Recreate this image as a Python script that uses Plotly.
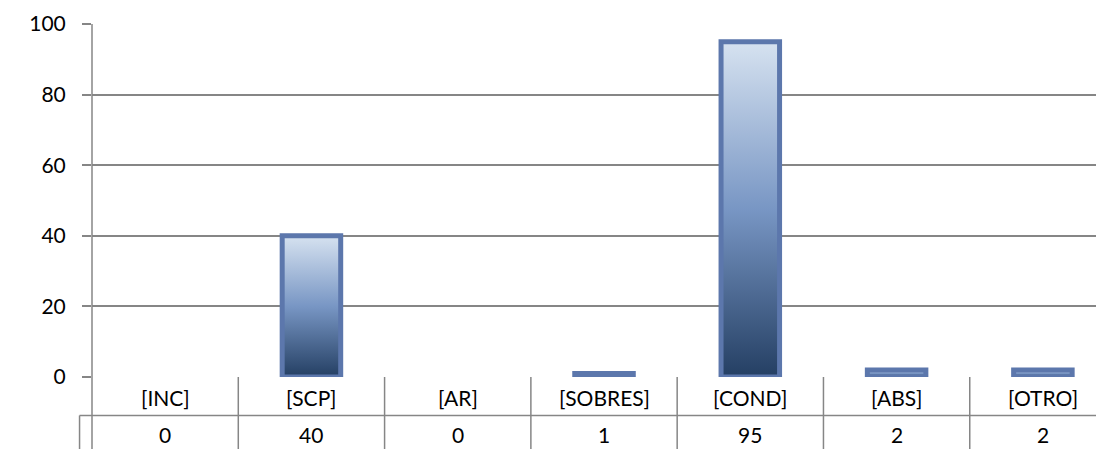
import plotly.graph_objects as go

# Data
categories = ["[INC]", "[SCP]", "[AR]", "[SOBRES]", "[COND]", "[ABS]", "[OTRO]"]
values = [0, 40, 0, 1, 95, 2, 2]
y_ticks = [0, 20, 40, 60, 80, 100]

grid_color = "#868686"
border_color = "#5C77AC"
font_family = "Lato, Carlito, Calibri, sans-serif"
half_w = 0.2  # half bar width in category units

fig = go.Figure()

# bars drawn as filled polygons so they can carry a vertical gradient
for i, (cat, v) in enumerate(zip(categories, values)):
    if v <= 0:
        continue
    fig.add_trace(go.Scatter(
        x=[i - half_w, i - half_w, i + half_w, i + half_w, i - half_w],
        y=[0, v, v, 0, 0],
        mode="lines",
        fill="toself",
        fillgradient=dict(type="vertical",
                          colorscale=[[0, "#243F63"], [0.5, "#7896C4"], [1, "#D6E2F0"]]),
        line=dict(color=border_color, width=5),
        name=cat,
        showlegend=False,
        hoverinfo="skip",
    ))

# data table below the plot
row1_bottom = -0.109
table_bottom = -0.30
shapes = []
for k in range(1, len(categories)):
    shapes.append(dict(type="line", xref="x", yref="paper", x0=k - 0.5, x1=k - 0.5,
                       y0=0, y1=table_bottom, line=dict(color=grid_color, width=1.5)))
shapes.append(dict(type="line", xref="paper", yref="paper", x0=-0.0124, x1=1,
                   y0=row1_bottom, y1=row1_bottom, line=dict(color=grid_color, width=1.5)))
shapes.append(dict(type="line", xref="paper", yref="paper", x0=-0.0124, x1=-0.0124,
                   y0=row1_bottom, y1=table_bottom, line=dict(color=grid_color, width=1.5)))
shapes.append(dict(type="line", xref="paper", yref="paper", x0=0, x1=0,
                   y0=1, y1=table_bottom, line=dict(color=grid_color, width=1.5)))

annotations = []
for i, (cat, v) in enumerate(zip(categories, values)):
    annotations.append(dict(x=i, y=-0.058, xref="x", yref="paper", text=cat,
                            yanchor="middle", showarrow=False,
                            font=dict(size=21, color="#000000", family=font_family)))
    annotations.append(dict(x=i, y=-0.163, xref="x", yref="paper", text=str(v),
                            yanchor="middle", showarrow=False,
                            font=dict(size=21, color="#000000", family=font_family)))

fig.update_layout(
    width=1096, height=449,
    margin=dict(l=92, r=0, t=24, b=72),
    paper_bgcolor="white", plot_bgcolor="white",
    shapes=shapes,
    annotations=annotations,
    xaxis=dict(range=[-0.5, 6.363], showgrid=False, showticklabels=False,
               zeroline=False, showline=False, fixedrange=True),
    yaxis=dict(range=[0, 100], tickvals=y_ticks, showgrid=True, gridcolor=grid_color,
               gridwidth=1.5, zeroline=False, ticks="outside", ticklen=9,
               tickcolor=grid_color, tickwidth=1.5, ticklabelstandoff=12,
               tickfont=dict(size=21, color="#000000", family=font_family)),
    showlegend=False,
)

# drop the default page margin so the figure fills the window exactly
fig.write_html("out.html", config={"displayModeBar": False},
               post_script="document.body.style.margin='0';")
